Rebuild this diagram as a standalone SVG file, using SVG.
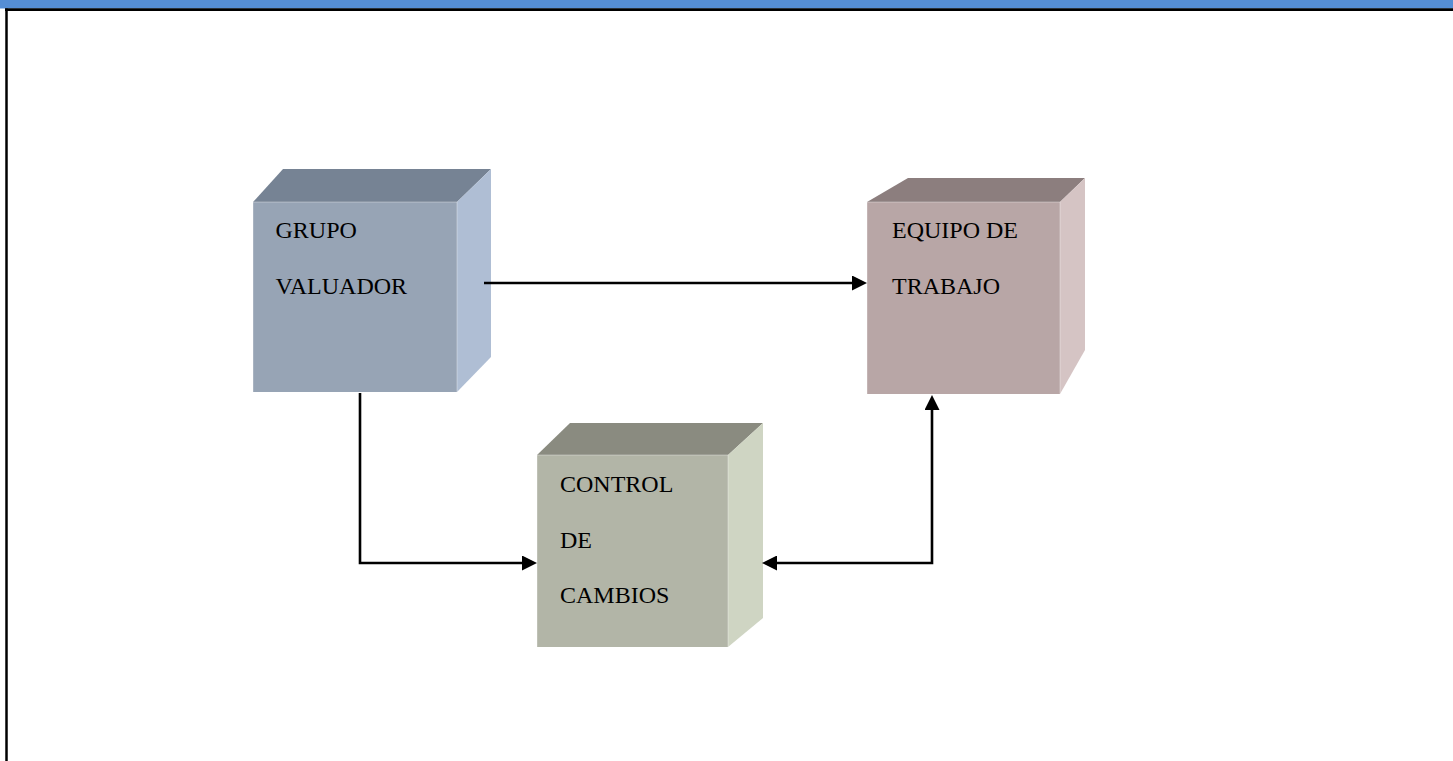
<svg xmlns="http://www.w3.org/2000/svg" width="1453" height="761" viewBox="0 0 1453 761">
  <style>
    .lbl { font-family: "Liberation Serif", "Times New Roman", serif; font-size: 24px; fill: #000; }
    .edge { fill: none; stroke: #000; stroke-width: 2.6; }
    .face { stroke: none; }
    .hl { fill: none; stroke: #ffffff; stroke-opacity: 0.35; stroke-width: 1; }
  </style>
  <defs>
    <marker id="arrow" viewBox="0 0 15 15" refX="1" refY="7.5" markerWidth="15" markerHeight="15" markerUnits="userSpaceOnUse" orient="auto-start-reverse">
      <path d="M0,0 L15,7.5 L0,15 Z" fill="#000"/>
    </marker>
  </defs>
  <rect x="0" y="0" width="1453" height="761" fill="#fff"/>
  <!-- header -->
  <rect x="0" y="0" width="1453" height="8.5" fill="#558ED5"/>
  <line x1="5" y1="9.6" x2="1453" y2="9.6" stroke="#000" stroke-width="2.6"/>
  <line x1="6.5" y1="8.5" x2="6.5" y2="761" stroke="#000" stroke-width="2.5"/>

  <g id="grupo-valuador">
    <polygon class="face" points="253,202 283,169 491,169 457,202" fill="#768394"/>
    <polygon class="face" points="457,202 491,169 491,357 457,392" fill="#AFBED4"/>
    <rect class="face" x="253" y="202" width="204" height="190" fill="#97A4B5"/>
    <polyline class="hl" points="253,392 253,202 457,202 457,392"/>
    <text class="lbl" x="275.5" y="238">GRUPO</text>
    <text class="lbl" x="275.5" y="294">VALUADOR</text>
  </g>

  <g id="equipo-de-trabajo">
    <polygon class="face" points="867,202 908,178 1085,178 1060,202" fill="#8C7E7E"/>
    <polygon class="face" points="1060,202 1085,178 1085,350 1060,394" fill="#D5C4C4"/>
    <rect class="face" x="867" y="202" width="193" height="192" fill="#B8A6A6"/>
    <polyline class="hl" points="867,394 867,202 1060,202 1060,394"/>
    <text class="lbl" x="892" y="238">EQUIPO DE</text>
    <text class="lbl" x="892" y="294">TRABAJO</text>
  </g>

  <g id="control-de-cambios">
    <polygon class="face" points="537,455 570,423 763,423 728,455" fill="#8A8B80"/>
    <polygon class="face" points="728,455 763,423 763,618 728,647" fill="#CFD5C3"/>
    <rect class="face" x="537" y="455" width="191" height="192" fill="#B2B5A7"/>
    <polyline class="hl" points="537,647 537,455 728,455 728,647"/>
    <text class="lbl" x="560" y="492">CONTROL</text>
    <text class="lbl" x="560" y="548">DE</text>
    <text class="lbl" x="560" y="603">CAMBIOS</text>
  </g>

  <g id="connectors">
    <path class="edge" d="M484,283 H853" marker-end="url(#arrow)"/>
    <path class="edge" d="M360,393 V563 H523" marker-end="url(#arrow)"/>
    <path class="edge" d="M776,563 H932 V409" marker-start="url(#arrow)" marker-end="url(#arrow)"/>
  </g>
</svg>
